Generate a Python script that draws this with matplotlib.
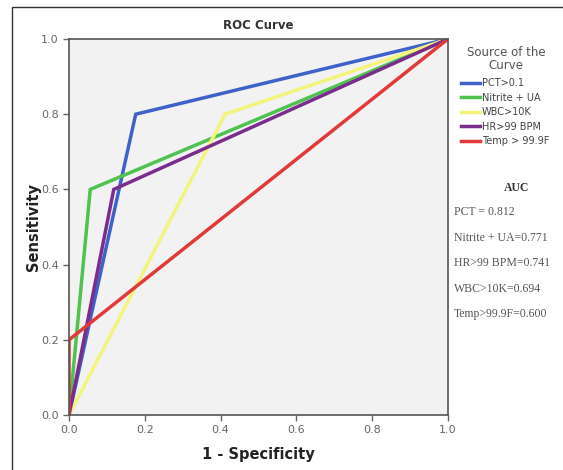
import matplotlib.pyplot as plt
from matplotlib.lines import Line2D
from matplotlib.patches import Rectangle

names = ["PCT>0.1", "Nitrite + UA", "WBC>10K", "HR>99 BPM", "Temp > 99.9F"]
colors = ["#3f62c8", "#4fc24f", "#f4f47c", "#7a2d8c", "#e23a3a"]
fpr = [[0, 0.176, 1], [0, 0.056, 1], [0, 0.412, 1], [0, 0.118, 1], [0, 0, 1]]
tpr = [[0, 0.8, 1], [0, 0.6, 1], [0, 0.8, 1], [0, 0.6, 1], [0, 0.2, 1]]
auc_lines = ["PCT = 0.812", "Nitrite + UA=0.771", "HR>99 BPM=0.741",
             "WBC>10K=0.694", "Temp>99.9F=0.600"]
ticks = [0.0, 0.2, 0.4, 0.6, 0.8, 1.0]

fig = plt.figure(figsize=(5.63, 4.70), dpi=100)
ax = fig.add_axes([0.1226, 0.117, 0.673, 0.8])
ax.set_facecolor("#f2f2f2")

for x, y, c in zip(fpr, tpr, colors):
    ax.plot(x, y, color=c, lw=2.5, solid_joinstyle="miter")

ax.set_xlim(0, 1)
ax.set_ylim(0, 1)
ax.set_xticks(ticks)
ax.set_yticks(ticks)
ax.set_xticklabels(["%.1f" % t for t in ticks])
ax.set_yticklabels(["%.1f" % t for t in ticks])
ax.tick_params(colors="#666666", labelsize=8, length=4, width=1)
for s in ax.spines.values():
    s.set_color("#555555")
    s.set_linewidth(1.2)

ax.set_title("ROC Curve", fontsize=8.5, fontweight="bold", color="#333333", pad=7)
ax.set_xlabel("1 - Specificity", fontsize=10.5, fontweight="bold", color="#222222", labelpad=8)
ax.set_ylabel("Sensitivity", fontsize=10.5, fontweight="bold", color="#222222", labelpad=0)

# legend
fig.text(0.899, 0.874, "Source of the\nCurve", fontsize=8.5, color="#555555",
         ha="center", va="center", linespacing=0.95)
handles = [Line2D([], [], color=c, lw=2.5) for c in colors]
leg = fig.legend(handles, names, loc="upper left",
                 bbox_to_anchor=(0.818, 0.833), frameon=False, fontsize=7,
                 handlelength=2.0, handletextpad=0.2,
                 labelspacing=0.45, borderaxespad=0, borderpad=0)
for t in leg.get_texts():
    t.set_color("#444444")

fig.text(0.918, 0.6, "AUC", fontsize=8.5, fontweight="bold", family="Liberation Serif",
         color="#333333", ha="center", va="center")
for i, s in enumerate(auc_lines):
    fig.text(0.806, 0.549 - i * 0.0545, s, fontsize=8.5, family="Liberation Serif",
             color="#555555", ha="left", va="center")

fig.patches.append(Rectangle((0.021, -0.1), 1.2, 1.085, transform=fig.transFigure,
                             fill=False, edgecolor="#333333", lw=1.0))

fig.savefig("out.png", dpi=100)
